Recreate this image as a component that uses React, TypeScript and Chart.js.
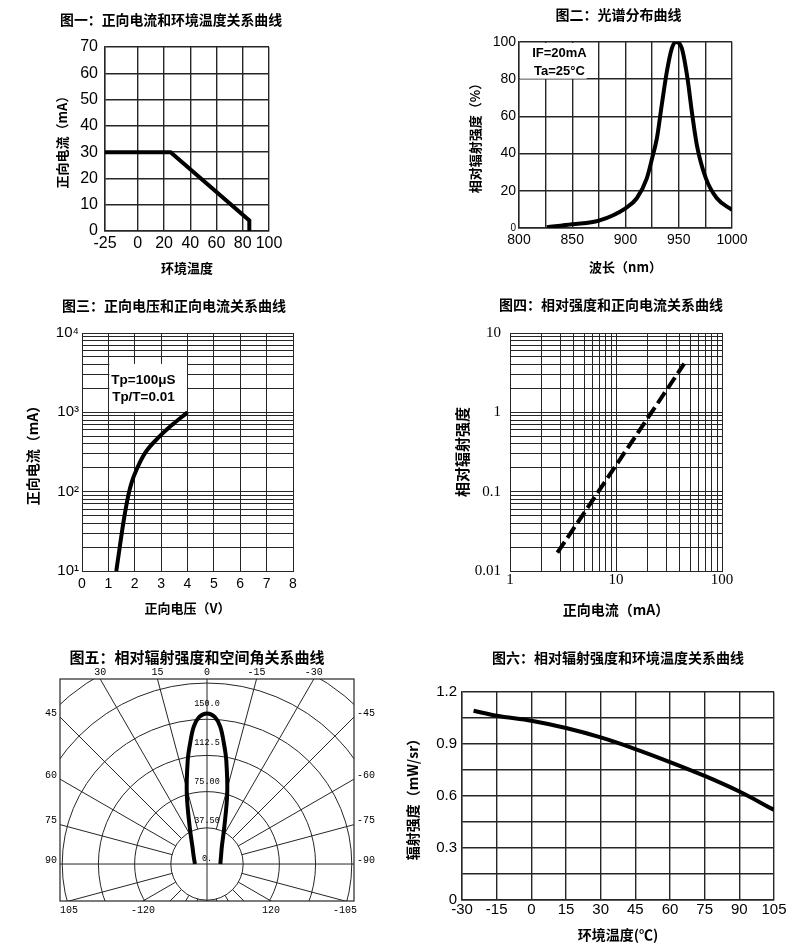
import React, { useEffect, useRef } from 'react';
import { Chart, registerables } from 'chart.js';

Chart.register(...registerables);

// ================= DATA =================
// 图一：正向电流和环境温度关系曲线
const ambientTemp1 = [-25, 25, 85, 85];
const forwardCurrent1 = [30, 30, 4, 0];
const xTicks1 = [-25, 0, 20, 40, 60, 80, 100];

// 图二：光谱分布曲线
const wavelength2 = [826, 850, 875, 900, 910.6, 920, 925, 929.4, 934, 938.8, 943.5, 947.5, 952.9, 958.2, 962.3, 967, 975.5, 985.8, 1000];
const relIntensity2 = [0.4, 2, 4, 10.6, 16, 26.7, 37.5, 48, 66, 84, 96.6, 100, 96.6, 80.5, 62.5, 44.6, 26.7, 16, 9.7];
const xLabelTicks2 = [800, 850, 900, 950, 1000];
const noteLines2 = ['IF=20mA', 'Ta=25°C'];

// 图三：正向电压和正向电流关系曲线
const forwardVoltage3 = [1.3, 1.44, 1.59, 1.75, 1.88, 2.07, 2.4, 2.95, 3.45, 4.0];
const forwardCurrent3 = [10, 21, 45, 88, 130, 190, 310, 500, 710, 1000];
const yTicks3 = [10, 100, 1000, 10000];
const yTickLabels3 = ['10¹', '10²', '10³', '10⁴'];
const noteLines3 = ['Tp=100μS', 'Tp/T=0.01'];

// 图四：相对强度和正向电流关系曲线
const forwardCurrent4 = [2.8, 44];
const relIntensity4 = [0.017, 4.1];
const xTicks4 = [1, 10, 100];
const xTickLabels4 = ['1', '10', '100'];
const yTicks4 = [0.01, 0.1, 1, 10];
const yTickLabels4 = ['0.01', '0.1', '1', '10'];

// 图五：相对辐射强度和空间角关系曲线
const polarAngle5 = [90, 61, 40, 25, 16, 10.5, 8, 5.5, 3, 0, -3, -5.5, -8, -10.5, -16, -25, -40, -62, -90];
const polarIntensity5 = [12.5, 15.7, 23.5, 42.5, 76, 109.5, 126, 143, 152.5, 156, 152.5, 143, 126, 109.5, 76, 42.5, 24, 16.4, 13.8];
const polarRings5 = [37.5, 75, 112.5, 150, 187.5, 225, 262.5];
const polarRingLabelValues5 = [0, 37.5, 75, 112.5, 150];
const polarRingLabels5 = ['0.', '37.50', '75.00', '112.5', '150.0'];
const polarAngleTicks5 = [30, 15, 0, -15, -30, 45, 60, 75, 90, -45, -60, -75, -90, 105, 120, -120, -105];
const polarAngleLabels5 = ['30', '15', '0', '-15', '-30', '45', '60', '75', '90', '-45', '-60', '-75', '-90', '105', '-120', '120', '-105'];

// 图六：相对辐射强度和环境温度关系曲线
const ambientTemp6 = [-25, -15, 0, 15, 30, 45, 60, 75, 90, 105];
const radiantIntensity6 = [1.092, 1.063, 1.034, 0.992, 0.938, 0.871, 0.796, 0.716, 0.626, 0.52];
const yTicks6 = [0, 0.3, 0.6, 0.9, 1.2];
const yTickLabels6 = ['0', '0.3', '0.6', '0.9', '1.2'];

// ================= STYLE =================
const CJK = "'Noto Sans CJK SC', 'Noto Sans', sans-serif";
const SANS = "'Liberation Sans', Arial, sans-serif";
const SERIF = "'Liberation Serif', 'DejaVu Serif', serif";
const MONO = "'Liberation Mono', 'DejaVu Sans Mono', monospace";
const GRID = '#262626';

type Frame = {
  X0: number; Y0: number; W: number; H: number;
  l: number; t: number; r: number; b: number;
  titleCx: number; titleCy: number; titleSize: number;
  yTitleCx: number; yTitleSize: number;
  xTitleCy: number; xTitleSize: number;
  fullTitle: boolean; yW: number;
};

function frameLayout(f: Frame) {
  const yW = f.yW;
  // a blank right-hand box lets the full-width title sit at its own centre
  const rW = f.fullTitle ? yW - (f.l + f.r - 2 * f.titleCx) : 0;
  const padL = f.l - f.X0 - yW;
  const padR = f.X0 + f.W - f.r - rW;
  const tlh = f.titleSize * 1.2;
  return {
    yW, rW, padL, padR,
    xH: f.Y0 + f.H - f.b,
    titlePad: { top: f.titleCy - f.Y0 - tlh / 2, bottom: f.t - f.titleCy - tlh / 2 },
    yTitlePad: f.yTitleCx - (f.X0 + padL) - (f.yTitleSize * 1.2) / 2,
    xTitlePad: f.Y0 + f.H - f.xTitleCy - (f.xTitleSize * 1.2) / 2,
  };
}

function logTicks(min: number, max: number) {
  const out: { value: number }[] = [];
  for (let e = Math.floor(Math.log10(min)); e <= Math.ceil(Math.log10(max)); e++) {
    for (let m = 1; m <= 9; m++) {
      const v = +(m * Math.pow(10, e)).toPrecision(6);
      if (v >= min * 0.9999 && v <= max * 1.0001) out.push({ value: v });
    }
  }
  return out;
}

function labelFrom(values: number[], labels: string[]) {
  return (v: number) => {
    const i = values.findIndex((t) => Math.abs(t - v) <= Math.abs(t) * 1e-6 + 1e-9);
    return i >= 0 ? labels[i] : '';
  };
}

function zeroPad(sc: any) {
  sc.paddingLeft = 0; sc.paddingRight = 0; sc.paddingTop = 0; sc.paddingBottom = 0;
}

type AxisOpts = {
  type: string; min: number; max: number; stepSize?: number;
  tickFont: any; tickPad: number; callback?: (v: number) => string;
  afterBuildTicks?: (s: any) => void;
  title: string; titleSize: number; gridWidth: number;
};

function axis(kind: 'x' | 'y', L: ReturnType<typeof frameLayout>, o: AxisOpts) {
  const ticks: any = {
    autoSkip: false, maxRotation: 0, minRotation: 0, padding: o.tickPad, font: o.tickFont, color: '#000',
  };
  if (o.stepSize !== undefined) ticks.stepSize = o.stepSize;
  if (o.callback) ticks.callback = o.callback;
  const s: any = {
    type: o.type, min: o.min, max: o.max,
    position: kind === 'y' ? 'left' : 'bottom',
    ticks,
    grid: { color: GRID, lineWidth: o.gridWidth, drawTicks: false },
    border: { color: GRID, width: o.gridWidth },
    title: {
      display: true, text: o.title, color: '#000',
      font: { family: CJK, size: o.titleSize, weight: 'bold' },
      padding: kind === 'y' ? { top: L.yTitlePad, bottom: 0 } : { top: 0, bottom: L.xTitlePad },
    },
    afterFit: (sc: any) => {
      if (kind === 'y') sc.width = L.yW; else sc.height = L.xH;
      zeroPad(sc);
    },
  };
  if (o.afterBuildTicks) s.afterBuildTicks = o.afterBuildTicks;
  return s;
}

function blankRight(L: ReturnType<typeof frameLayout>) {
  return {
    type: 'linear', position: 'right', display: true,
    ticks: { display: false }, grid: { display: false }, border: { display: false },
    afterFit: (sc: any) => { sc.width = L.rW; zeroPad(sc); },
  };
}

function baseConfig(f: Frame, title: string, datasets: any[], scales: any, extraPlugins: any[] = [], pluginOpts: any = {}) {
  const L = frameLayout(f);
  const allScales = L.rW > 0 ? { ...scales, yr: blankRight(L) } : scales;
  return {
    type: 'line',
    data: { datasets },
    options: {
      responsive: false,
      maintainAspectRatio: false,
      animation: false,
      devicePixelRatio: 1,
      layout: { padding: { left: L.padL, right: L.padR, top: 0, bottom: 0 } },
      elements: { point: { radius: 0 } },
      plugins: {
        legend: { display: false },
        tooltip: { enabled: false },
        title: {
          display: true, text: title, fullSize: f.fullTitle, color: '#000',
          font: { family: CJK, size: f.titleSize, weight: 'bold' },
          padding: L.titlePad,
        },
        ...pluginOpts,
      },
      scales: allScales,
    },
    plugins: extraPlugins,
  };
}

// white note box with text, positioned in data coordinates
const noteBoxPlugin = {
  id: 'noteBox',
  beforeDatasetsDraw(chart: any, _a: any, o: any) {
    const { ctx, scales } = chart;
    const x0 = scales.x.getPixelForValue(o.x0), x1 = scales.x.getPixelForValue(o.x1);
    const y0 = scales.y.getPixelForValue(o.y0), y1 = scales.y.getPixelForValue(o.y1);
    ctx.save();
    ctx.fillStyle = '#fff';
    ctx.fillRect(Math.min(x0, x1) + 1, Math.min(y0, y1) + 1, Math.abs(x1 - x0) - 1.5, Math.abs(y1 - y0) - 1.5);
    ctx.fillStyle = '#000';
    ctx.font = o.font;
    ctx.textAlign = 'center';
    ctx.textBaseline = 'middle';
    o.lines.forEach((txt: string, i: number) => {
      ctx.fillText(txt, scales.x.getPixelForValue(o.textX), scales.y.getPixelForValue(o.textY[i]));
    });
    ctx.restore();
  },
};

// polar grid for 图五
const polarGridPlugin = {
  id: 'polarGrid',
  beforeDatasetsDraw(chart: any, _a: any, o: any) {
    const { ctx, chartArea: a, scales } = chart;
    const cx = scales.x.getPixelForValue(0);
    const cy = scales.y.getPixelForValue(0);
    const k = scales.x.getPixelForValue(1) - cx;
    const w = a.right - a.left, h = a.bottom - a.top;
    ctx.save();
    ctx.beginPath();
    ctx.rect(a.left, a.top, w, h);
    ctx.clip();
    ctx.strokeStyle = GRID;
    ctx.lineWidth = 1;
    for (const rv of o.rings) {
      ctx.beginPath();
      ctx.arc(cx, cy, rv * k, 0, Math.PI * 2);
      ctx.stroke();
    }
    const rMax = Math.hypot(w, h) * 2;
    for (let deg = 0; deg < 360; deg += 15) {
      const rad = (deg * Math.PI) / 180;
      const dx = -Math.sin(rad), dy = -Math.cos(rad);
      const r0 = deg % 90 === 0 ? 0 : o.rings[0] * k;
      ctx.beginPath();
      ctx.moveTo(cx + dx * r0, cy + dy * r0);
      ctx.lineTo(cx + dx * rMax, cy + dy * rMax);
      ctx.stroke();
    }
    ctx.restore();

    ctx.save();
    ctx.strokeStyle = GRID;
    ctx.lineWidth = 1.2;
    ctx.strokeRect(a.left, a.top, w, h);
    ctx.fillStyle = '#000';
    ctx.textBaseline = 'middle';
    ctx.textAlign = 'center';
    ctx.font = o.ringFont;
    o.ringLabelValues.forEach((v: number, i: number) => {
      ctx.fillText(o.ringLabels[i], cx, cy - v * k * o.ringLabelSpread - 5);
    });
    ctx.font = o.angleFont;
    o.angles.forEach((deg: number, i: number) => {
      const rad = (deg * Math.PI) / 180;
      const dx = -Math.sin(rad), dy = -Math.cos(rad);
      let best = Infinity, edge = '';
      if (dy < -1e-9) { const t = (a.top - cy) / dy; if (t < best) { best = t; edge = 'top'; } }
      if (dy > 1e-9) { const t = (a.bottom - cy) / dy; if (t < best) { best = t; edge = 'bottom'; } }
      if (dx < -1e-9) { const t = (a.left - cx) / dx; if (t < best) { best = t; edge = 'left'; } }
      if (dx > 1e-9) { const t = (a.right - cx) / dx; if (t < best) { best = t; edge = 'right'; } }
      const px = cx + dx * best, py = cy + dy * best;
      const txt = o.angleLabels[i];
      if (edge === 'top') { ctx.textAlign = 'center'; ctx.fillText(txt, px, a.top - 7); }
      else if (edge === 'bottom') { ctx.textAlign = 'center'; ctx.fillText(txt, px, a.bottom + 9); }
      else if (edge === 'left') { ctx.textAlign = 'right'; ctx.fillText(txt, a.left - 3, py - 4); }
      else { ctx.textAlign = 'left'; ctx.fillText(txt, a.right + 3, py - 4); }
    });
    ctx.restore();
  },
};

// ================= CHART CONFIGS =================
const frame1: Frame = { X0: 0, Y0: 0, W: 400, H: 285, l: 105, t: 47, r: 269, b: 231, titleCx: 171, titleCy: 20, titleSize: 14, yTitleCx: 62, yTitleSize: 13, xTitleCy: 268, xTitleSize: 13, fullTitle: true, yW: 45 };
function config1() {
  const L = frameLayout(frame1);
  return baseConfig(frame1, '图一：正向电流和环境温度关系曲线', [{
    data: ambientTemp1.map((x, i) => ({ x, y: forwardCurrent1[i] })),
    borderColor: '#000', borderWidth: 4, tension: 0, borderJoinStyle: 'miter',
  }], {
    x: axis('x', L, { type: 'linear', min: -25, max: 100, tickFont: { family: SANS, size: 16 }, tickPad: 3, title: '环境温度', titleSize: 13, gridWidth: 1.4, afterBuildTicks: (s: any) => { s.ticks = xTicks1.map((value) => ({ value })); } }),
    y: axis('y', L, { type: 'linear', min: 0, max: 70, stepSize: 10, tickFont: { family: SANS, size: 16 }, tickPad: 7, title: '正向电流（mA）', titleSize: 13, gridWidth: 1.4 }),
  });
}

const frame2: Frame = { X0: 400, Y0: 0, W: 399, H: 285, l: 519, t: 42, r: 732, b: 228, titleCx: 618.5, titleCy: 15, titleSize: 14, yTitleCx: 475, yTitleSize: 13, xTitleCy: 267, xTitleSize: 13, fullTitle: true, yW: 40 };
function config2() {
  const L = frameLayout(frame2);
  return baseConfig(frame2, '图二：光谱分布曲线', [{
    data: wavelength2.map((x, i) => ({ x, y: relIntensity2[i] })),
    borderColor: '#000', borderWidth: 4, cubicInterpolationMode: 'monotone',
  }], {
    x: axis('x', L, { type: 'linear', min: 800, max: 1000, stepSize: 25, tickFont: { family: SANS, size: 14 }, tickPad: 4, title: '波长（nm）', titleSize: 13, gridWidth: 1.4, callback: (v: number) => (xLabelTicks2.includes(v) ? String(v) : '') }),
    y: axis('y', L, { type: 'linear', min: 0, max: 100, stepSize: 20, tickFont: (ctx: any) => ({ family: SANS, size: ctx.tick && ctx.tick.value === 0 ? 10 : 14 }), tickPad: 3, title: '相对辐射强度（%）', titleSize: 13, gridWidth: 1.4 }),
  }, [noteBoxPlugin], {
    noteBox: { x0: 800, x1: 864, y0: 80, y1: 100, textX: 838, textY: [94, 84.4], lines: noteLines2, font: `bold 13px ${SANS}` },
  });
}

const frame3: Frame = { X0: 0, Y0: 290, W: 400, H: 330, l: 82, t: 333, r: 293, b: 571, titleCx: 174, titleCy: 306, titleSize: 14, yTitleCx: 33, yTitleSize: 14, xTitleCy: 608, xTitleSize: 13, fullTitle: true, yW: 40 };
function config3() {
  const L = frameLayout(frame3);
  return baseConfig(frame3, '图三：正向电压和正向电流关系曲线', [{
    data: forwardVoltage3.map((x, i) => ({ x, y: forwardCurrent3[i] })),
    borderColor: '#000', borderWidth: 4, cubicInterpolationMode: 'monotone',
  }], {
    x: axis('x', L, { type: 'linear', min: 0, max: 8, stepSize: 1, tickFont: { family: SANS, size: 14 }, tickPad: 5, title: '正向电压（V）', titleSize: 13, gridWidth: 1 }),
    y: axis('y', L, { type: 'logarithmic', min: 10, max: 10000, tickFont: { family: SANS, size: 15 }, tickPad: 3, title: '正向电流（mA）', titleSize: 14, gridWidth: 1, callback: labelFrom(yTicks3, yTickLabels3), afterBuildTicks: (s: any) => { s.ticks = logTicks(10, 10000); } }),
  }, [noteBoxPlugin], {
    noteBox: { x0: 1, x1: 4, y0: 1000, y1: 4200, textX: 2.33, textY: [2570, 1530], lines: noteLines3, font: `bold 13.5px ${SANS}` },
  });
}

const frame4: Frame = { X0: 400, Y0: 290, W: 399, H: 330, l: 510, t: 333, r: 722, b: 571, titleCx: 611, titleCy: 305, titleSize: 14, yTitleCx: 462, yTitleSize: 15, xTitleCy: 610, xTitleSize: 14, fullTitle: true, yW: 40 };
function config4() {
  const L = frameLayout(frame4);
  return baseConfig(frame4, '图四：相对强度和正向电流关系曲线', [{
    data: forwardCurrent4.map((x, i) => ({ x, y: relIntensity4[i] })),
    borderColor: '#000', borderWidth: 4, borderDash: [13, 5], borderCapStyle: 'butt', tension: 0,
  }], {
    x: axis('x', L, { type: 'logarithmic', min: 1, max: 100, tickFont: { family: SERIF, size: 15 }, tickPad: 0, title: '正向电流（mA）', titleSize: 14, gridWidth: 1, callback: labelFrom(xTicks4, xTickLabels4), afterBuildTicks: (s: any) => { s.ticks = logTicks(1, 100); } }),
    y: axis('y', L, { type: 'logarithmic', min: 0.01, max: 10, tickFont: { family: SERIF, size: 15 }, tickPad: 9, title: '相对辐射强度', titleSize: 15, gridWidth: 1, callback: labelFrom(yTicks4, yTickLabels4), afterBuildTicks: (s: any) => { s.ticks = logTicks(0.01, 10); } }),
  });
}

const frame5: Frame = { X0: 0, Y0: 640, W: 400, H: 300, l: 60, t: 679, r: 354, b: 901, titleCx: 197, titleCy: 657, titleSize: 15, yTitleCx: 0, yTitleSize: 12, xTitleCy: 0, xTitleSize: 12, fullTitle: true, yW: 20 };
function config5() {
  const L = frameLayout(frame5);
  const cfg: any = baseConfig(frame5, '图五：相对辐射强度和空间角关系曲线', [{
    data: polarAngle5.map((deg, i) => {
      const rad = (deg * Math.PI) / 180;
      return { x: -polarIntensity5[i] * Math.sin(rad), y: polarIntensity5[i] * Math.cos(rad) };
    }),
    borderColor: '#000', borderWidth: 4, tension: 0.35,
  }], {
    x: { type: 'linear', min: -152.3, max: 152.3, display: false },
    y: {
      type: 'linear', min: -38.3, max: 191.6, display: true,
      ticks: { display: false }, grid: { display: false }, border: { display: false },
      afterFit: (sc: any) => { sc.width = L.yW; zeroPad(sc); },
    },
  }, [polarGridPlugin], {
    polarGrid: {
      rings: polarRings5, ringLabelValues: polarRingLabelValues5, ringLabels: polarRingLabels5,
      angles: polarAngleTicks5, angleLabels: polarAngleLabels5,
      ringFont: `8.5px ${MONO}`, angleFont: `10px ${MONO}`, ringLabelSpread: 1.07,
    },
  });
  cfg.options.layout.padding.bottom = frame5.Y0 + frame5.H - frame5.b;
  return cfg;
}

const frame6: Frame = { X0: 400, Y0: 640, W: 399, H: 305, l: 462, t: 692, r: 774, b: 900, titleCx: 618, titleCy: 658, titleSize: 14, yTitleCx: 413, yTitleSize: 14, xTitleCy: 935, xTitleSize: 14, fullTitle: false, yW: 40 };
function config6() {
  const L = frameLayout(frame6);
  return baseConfig(frame6, '图六：相对辐射强度和环境温度关系曲线', [{
    data: ambientTemp6.map((x, i) => ({ x, y: radiantIntensity6[i] })),
    borderColor: '#000', borderWidth: 4, cubicInterpolationMode: 'monotone',
  }], {
    x: axis('x', L, { type: 'linear', min: -30, max: 105, stepSize: 15, tickFont: { family: SANS, size: 15 }, tickPad: 1, title: '环境温度(℃)', titleSize: 14, gridWidth: 1.4 }),
    y: axis('y', L, { type: 'linear', min: 0, max: 1.2, stepSize: 0.15, tickFont: { family: SANS, size: 15 }, tickPad: 5, title: '辐射强度（mW/sr）', titleSize: 14, gridWidth: 1.4, callback: labelFrom(yTicks6, yTickLabels6) }),
  });
}

const PANELS: { id: string; frame: Frame; make: () => any }[] = [
  { id: 'c1', frame: frame1, make: config1 },
  { id: 'c2', frame: frame2, make: config2 },
  { id: 'c3', frame: frame3, make: config3 },
  { id: 'c4', frame: frame4, make: config4 },
  { id: 'c5', frame: frame5, make: config5 },
  { id: 'c6', frame: frame6, make: config6 },
];

function ChartPanel({ frame, make }: { frame: Frame; make: () => any }) {
  const ref = useRef<HTMLCanvasElement | null>(null);
  useEffect(() => {
    if (!ref.current) return;
    const chart = new Chart(ref.current, make());
    return () => chart.destroy();
  }, [make]);
  return (
    <canvas
      ref={ref}
      width={frame.W}
      height={frame.H}
      style={{ position: 'absolute', left: frame.X0, top: frame.Y0, width: frame.W, height: frame.H }}
    />
  );
}

export default function App() {
  return (
    <div style={{ position: 'absolute', left: 0, top: 0, width: 799, height: 949, background: '#fff', overflow: 'hidden' }}>
      {PANELS.map((p) => (
        <ChartPanel key={p.id} frame={p.frame} make={p.make} />
      ))}
    </div>
  );
}
